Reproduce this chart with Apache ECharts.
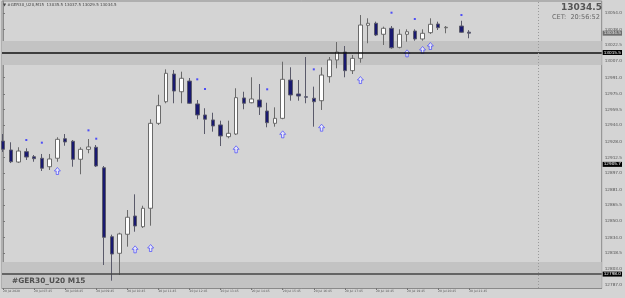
<!DOCTYPE html>
<html><head><meta charset="utf-8">
<script src="https://cdn.jsdelivr.net/npm/echarts@6/dist/echarts.min.js"></script>
<style>html,body{margin:0;padding:0;background:#d4d4d4;}#c{width:625px;height:298px;}</style>
</head><body><div id="c"></div>
<script>
// ---- data (bar index 0..60, M15 bars) ----
const opens  = [12928.6,12919.8,12908.0,12918.2,12913.2,12911.7,12903.4,12911.7,12930.9,12928.4,12910.7,12920.5,12922.5,12902.4,12834.7,12818.4,12837.1,12855.0,12844.5,12862.6,12946.0,12967.2,12994.4,12977.0,12987.5,12965.0,12954.2,12949.3,12944.4,12932.9,12935.5,12970.9,12966.2,12968.9,12958.1,12946.0,12950.9,12988.5,12974.8,12972.1,12970.6,12968.2,12991.8,13008.2,13016.0,12997.7,13009.8,13042.2,13044.2,13033.4,13039.3,13020.6,13033.4,13036.6,13028.8,13035.0,13043.5,13039.8,null,13041.5,13035.5];
const closes = [12920.5,12908.3,12918.8,12912.9,12911.3,12901.9,12911.0,12930.3,12927.7,12910.7,12920.5,12922.8,12904.1,12834.1,12817.7,12837.4,12853.8,12845.2,12862.6,12946.0,12963.3,12995.1,12977.7,12990.2,12965.7,12954.2,12950.0,12943.4,12933.6,12936.2,12971.2,12965.7,12969.9,12962.0,12946.6,12950.9,12989.2,12973.8,12972.8,12971.6,12967.2,12993.4,13008.2,13016.0,12997.7,13009.8,13042.5,13044.2,13032.7,13039.3,13020.2,13033.4,13035.9,13028.8,13034.4,13043.2,13039.9,13040.3,null,13035.4,13034.5];
const lows   = [12917.9,12907.0,12907.1,12910.0,12908.3,12899.2,12900.2,12908.3,12924.0,12903.4,12896.0,12916.6,12903.1,12806.9,12791.5,12797.1,12824.9,12839.6,12843.3,12845.5,12944.4,12965.7,12965.7,12965.7,12965.0,12950.0,12935.5,12937.8,12923.7,12931.3,12934.5,12959.8,12965.7,12954.2,12942.1,12942.7,12950.0,12968.2,12968.2,12965.7,12942.7,12959.1,12985.9,13000.0,12991.2,12994.4,13005.5,13024.6,13031.7,13022.9,13019.3,13019.6,13026.1,13027.1,13027.1,13033.7,13037.6,13034.4,null,13035.0,13029.5];
const highs  = [12935.5,12927.4,12922.5,12921.5,12914.9,12915.9,12915.9,12932.3,12935.5,12929.6,12922.5,12930.6,12924.7,12904.1,12836.7,12838.6,12860.9,12876.3,12865.1,12950.0,12974.1,12999.0,12998.3,12996.7,12990.5,12968.9,12960.8,12956.4,12948.6,12948.6,12980.4,12977.0,12991.2,12984.6,12966.2,12961.7,13006.5,13001.0,12988.5,13011.1,12982.0,13001.0,13011.1,13025.8,13021.9,13013.1,13052.3,13049.1,13045.8,13040.9,13041.5,13038.3,13038.3,13038.3,13038.3,13049.1,13045.8,13041.5,null,13046.7,13037.5];

const dotBars   = [3,5,11,12,25,26,34,40,50,53,59];
const dotValues = [12929.6,12927.0,12939.1,12930.9,12989.2,12979.7,12979.4,12999.0,13054.6,13048.4,13052.3];
const arrowBars   = [7,17,19,30,36,41,46,52,54,55];
const arrowValues = [12899.2,12822.3,12823.6,12920.5,12935.2,12941.7,12988.5,13014.7,13018.0,13021.9];

const labelBars  = [0,4,8,12,16,20,24,28,32,36,40,44,48,52,56,60];
const timeLabels = ['20 Jul 2020','20 Jul 07:45','20 Jul 08:45','20 Jul 09:45','20 Jul 10:45','20 Jul 11:45','20 Jul 12:45','20 Jul 13:45','20 Jul 14:45','20 Jul 15:45','20 Jul 16:45','20 Jul 17:45','20 Jul 18:45','20 Jul 19:45','20 Jul 20:45','20 Jul 21:45'];
const priceTicks = [13054.0,13038.0,13022.5,13007.0,12991.0,12975.0,12959.5,12944.0,12928.0,12912.5,12897.0,12881.0,12865.5,12850.0,12834.0,12818.5,12803.0,12787.0];

const zoneTop    = [13026.8, 13003.3];
const zoneBottom = [12809.9, 12784.34];
const bidPrice = 13034.5;
const levelTop = 13015.5;
const levelMid = 12905.7;
const levelBottom = 12798.0;
const separatorBar = 68.85;

const Y_MIN = 12784.34, Y_MAX = 13066.08;
const X_MIN = -0.128, X_MAX = 77.05;

const candles = [];
for (let i = 0; i < opens.length; i++) {
  if (opens[i] != null) candles.push([i, opens[i], closes[i], lows[i], highs[i]]);
}

const FONT = 'DejaVu Sans';
function boxLabel(text, bg, fg) {
  return {show:true, position:'end', distance:1, formatter:text, backgroundColor:bg, color:fg,
          fontSize:4.2, fontFamily:FONT, padding:[1,1,0,1]};
}
const HIDDEN = {color:'rgba(0,0,0,0)', width:1, type:'solid'};

const chart = echarts.init(document.getElementById('c'), null, {renderer:'canvas'});
chart.setOption({
  backgroundColor:'#d4d4d4',
  animation:false,
  grid:{left:1, top:1, width:602, height:287, show:true, backgroundColor:'#d4d4d4', borderColor:'#8a8a8a', borderWidth:1},
  xAxis:{
    type:'value', min:X_MIN, max:X_MAX, splitLine:{show:false},
    axisLine:{show:true, onZero:false, lineStyle:{color:'#8a8a8a'}},
    axisTick:{show:true, customValues:labelBars, length:2, lineStyle:{color:'#777'}},
    axisLabel:{customValues:labelBars, formatter:v => timeLabels[labelBars.indexOf(Math.round(v))] || '',
      fontSize:3, color:'#555', align:'left', margin:2, fontFamily:FONT}
  },
  yAxis:{
    type:'value', position:'right', min:Y_MIN, max:Y_MAX, splitLine:{show:false},
    axisLine:{show:true, lineStyle:{color:'#8a8a8a'}},
    axisTick:{show:true, customValues:priceTicks, length:2, lineStyle:{color:'#777'}},
    axisLabel:{customValues:priceTicks, formatter:v => v.toFixed(1), fontSize:4.2, color:'#555', margin:3, fontFamily:FONT}
  },
  series:[
    {
      type:'line', data:[], z:1,
      markArea:{silent:true, itemStyle:{color:'#c3c3c3'},
        data:[[{yAxis:zoneTop[0]},{yAxis:zoneTop[1]}],[{yAxis:zoneBottom[0]},{yAxis:zoneBottom[1]}]]},
      markLine:{silent:true, symbol:'none', animation:false,
        data:[
          {yAxis:bidPrice, lineStyle:HIDDEN, label:boxLabel(bidPrice.toFixed(1), '#6e6e6e', '#e8e8e8')},
          {yAxis:levelTop, lineStyle:{color:'#111', width:1.5, type:'solid'}, label:boxLabel(levelTop.toFixed(1), '#000', '#fff')},
          {yAxis:levelMid, lineStyle:HIDDEN, label:boxLabel(levelMid.toFixed(1), '#000', '#fff')},
          {yAxis:levelBottom, lineStyle:{color:'#444', width:1.5, type:'solid'}, label:boxLabel(levelBottom.toFixed(1), '#000', '#fff')},
          {xAxis:separatorBar, lineStyle:{color:'#9a9a9a', width:1, type:[1,2]}, label:{show:false}}
        ]}
    },
    {
      type:'candlestick', z:2, data:candles, barWidth:4,
      itemStyle:{color:'#ffffff', color0:'#191970', borderColor:'#6a6a6a', borderColor0:'#5a5a6a', borderWidth:1}
    },
    {
      type:'scatter', z:4, symbol:'rect', symbolSize:2,
      data:dotBars.map((b,i) => [b, dotValues[i]]),
      itemStyle:{color:'#2a2aff'}
    },
    {
      type:'scatter', z:4, symbol:'path://M5,0 L10,5 L7,5 L7,10 L3,10 L3,5 L0,5 Z', symbolSize:[6,7],
      data:arrowBars.map((b,i) => [b, arrowValues[i]]),
      itemStyle:{color:'#ececff', borderColor:'#3a3aff', borderWidth:0.8}
    }
  ],
  graphic:[
    {type:'text', z:100, x:3, y:5, style:{text:'▼ #GER30_U20,M15  13035.5 13037.5 13029.5 13034.5', fontSize:4, fontFamily:FONT, fill:'#444', verticalAlign:'middle'}},
    {type:'text', z:100, x:602, y:7.5, style:{text:'13034.5', fontSize:9, fontWeight:'bold', fontFamily:FONT, fill:'#555', align:'right', verticalAlign:'middle'}},
    {type:'text', z:100, x:600, y:17.3, style:{text:'CET:  20:56:52', fontSize:6.6, fontFamily:FONT, fill:'#6a6a6a', align:'right', verticalAlign:'middle'}},
    {type:'text', z:100, x:12, y:281.5, style:{text:'#GER30_U20 M15', fontSize:7.4, fontWeight:'bold', fontFamily:FONT, fill:'#505050', verticalAlign:'middle'}}
  ]
});
</script>
</body></html>
